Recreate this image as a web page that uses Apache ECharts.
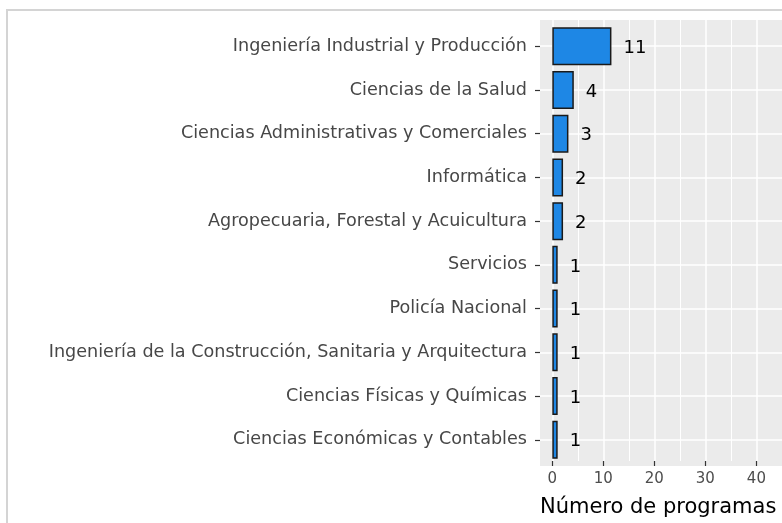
<!DOCTYPE html>
<html>
<head>
<meta charset="utf-8">
<script src="https://cdn.jsdelivr.net/npm/echarts@6/dist/echarts.min.js"></script>
<style>
  html, body { margin: 0; padding: 0; background: #fff; }
  #chart { width: 782px; height: 523px; }
</style>
</head>
<body>
<div id="chart"></div>
<script>
const categories = [
  "Ingeniería Industrial y Producción",
  "Ciencias de la Salud",
  "Ciencias Administrativas y Comerciales",
  "Informática",
  "Agropecuaria, Forestal y Acuicultura",
  "Servicios",
  "Policía Nacional",
  "Ingeniería de la Construcción, Sanitaria y Arquitectura",
  "Ciencias Físicas y Químicas",
  "Ciencias Económicas y Contables",
];
const programas = [11, 4, 3, 2, 2, 1, 1, 1, 1, 1];
const xTicks = [0, 10, 20, 30, 40];

const FONT = "DejaVu Sans";
const X_MIN = -2.29;
const X_MAX = 42.73;

const chart = echarts.init(document.getElementById("chart"), null, { renderer: "canvas" });

chart.setOption({
  backgroundColor: "#ffffff",
  animation: false,
  textStyle: { fontFamily: FONT },
  graphic: [
    {
      type: "rect",
      z: 100,
      silent: true,
      shape: { x: 7, y: 10, width: 900, height: 700 },
      style: { fill: "none", stroke: "#d4d4d4", lineWidth: 2 },
    },
  ],
  grid: [
    // grey panel
    { left: 540, top: 20, right: 0, bottom: 57, show: true, backgroundColor: "#EBEBEB", borderWidth: 0, z: -1 },
    // vertical grid lines + x axis
    { left: 552.3, top: 20, right: 0, bottom: 57 },
    // bars + category axis
    { left: 540, top: 46.2, right: 0, bottom: 83.2 },
  ],
  xAxis: [
    { gridIndex: 0, type: "value", show: false, min: 0, max: 1 },
    {
      gridIndex: 1,
      type: "value",
      min: 0,
      max: X_MAX + 2.29,
      interval: 10,
      axisLine: { show: false, onZero: false },
      axisTick: { show: true, length: 5, lineStyle: { color: "#333333", width: 1.2 },
        customValues: xTicks },
      axisLabel: {
        color: "#4D4D4D", fontSize: 15, margin: 11, fontFamily: FONT,
        customValues: xTicks,
      },
      splitLine: { show: true, lineStyle: { color: "#ffffff", width: 1.5 } },
      minorTick: { show: false, splitNumber: 2 },
      minorSplitLine: { show: true, lineStyle: { color: "#ffffff", width: 1 } },
      name: "Número de programas",
      nameLocation: "middle",
      nameGap: 36,
      nameTextStyle: { color: "#000000", fontSize: 21, fontFamily: FONT, padding: [0, 18, 0, 0] },
    },
    { gridIndex: 2, type: "value", show: false, min: X_MIN, max: X_MAX },
  ],
  yAxis: [
    { gridIndex: 0, type: "value", show: false, min: 0, max: 1 },
    { gridIndex: 1, type: "value", show: false, min: 0, max: 1 },
    {
      gridIndex: 2,
      type: "category",
      data: categories,
      inverse: true,
      boundaryGap: false,
      axisLine: { show: false, onZero: false },
      axisTick: { show: true, length: 5, lineStyle: { color: "#333333", width: 1.2 } },
      axisLabel: { color: "#474747", fontSize: 17.6, margin: 13, fontFamily: FONT },
      splitLine: { show: true, lineStyle: { color: "#ffffff", width: 1.5 } },
    },
  ],
  series: [
    {
      type: "bar",
      xAxisIndex: 2,
      yAxisIndex: 2,
      data: programas,
      barWidth: 38,
      itemStyle: { color: "#1E87E5", borderColor: "#1a1a1a", borderWidth: 1.5 },
      label: {
        show: true,
        position: "right",
        distance: 12,
        offset: [0, 2],
        color: "#000000",
        fontSize: 18,
        fontFamily: FONT,
      },
      z: 5,
    },
  ],
});
</script>
</body>
</html>
